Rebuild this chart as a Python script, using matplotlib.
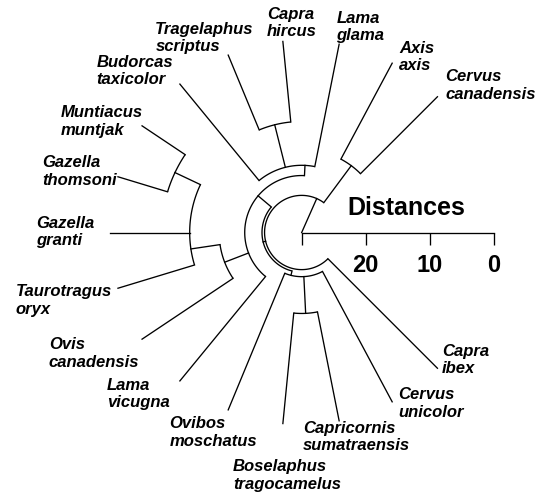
import numpy as np
import matplotlib.pyplot as plt

plt.rcParams['font.family'] = ['Liberation Sans', 'DejaVu Sans']

# leaves, counter-clockwise from the upper right
species = ["Cervus canadensis", "Axis axis", "Lama glama", "Capra hircus",
           "Tragelaphus scriptus", "Budorcas taxicolor", "Muntiacus muntjak",
           "Gazella thomsoni", "Gazella granti", "Taurotragus oryx",
           "Ovis canadensis", "Lama vicugna", "Ovibos moschatus",
           "Boselaphus tragocamelus", "Capricornis sumatraensis",
           "Cervus unicolor", "Capra ibex"]

# joins: children are species names or the index of an earlier join
join_children = [
    ["Cervus canadensis", "Axis axis"],
    ["Capra hircus", "Tragelaphus scriptus"],
    ["Muntiacus muntjak", "Gazella thomsoni"],
    ["Lama glama", 1, "Budorcas taxicolor"],
    ["Gazella granti", "Taurotragus oryx", 2],
    [4, "Ovis canadensis"],
    ["Boselaphus tragocamelus", "Capricornis sumatraensis"],
    ["Ovibos moschatus", 6, "Cervus unicolor"],
    [5, 3, "Lama vicugna"],
    [8, 7],
    [0, 9, "Capra ibex"],
]
join_dist = [17.0, 12.65, 8.1, 19.5, 12.5, 17.1, 17.35, 23.1, 21.1, 23.8, 24.2]

max_dist = 30
dist_ticks = [30, 20, 10, 0]
dist_labels = ["", "20", "10", "0"]

# where the branch tip sits in each label block (fraction from left, from top)
label_anchor = [(-0.09, 0.85), (-0.2, 0.7), (0.06, 1.03), (0.32, 1.07),
                (0.74, 1.03), (1.09, 0.9), (0.99, 0.63), (1.02, 0.66),
                (1.26, 0.51), (1.06, 0.12), (1.03, 0.06), (1.16, 0.1),
                (0.67, -0.2), (0.46, -1.1), (0.34, 0.0), (-0.09, 0.45),
                (-0.1, 0.75)]

# ---- layout
leaf_theta = np.deg2rad(45 + 270 * np.arange(len(species)) / (len(species) - 1))
theta = dict(zip(species, leaf_theta))
first_leaf = dict(zip(species, leaf_theta))
radius = {s: max_dist for s in species}

fig = plt.figure(figsize=(5.45, 4.97), dpi=100)
ax = fig.add_axes([0, 0, 1, 1])
ax.set_xlim(-47.14, 38.02)
ax.set_ylim(-41.33, 36.33)
ax.set_aspect('equal')
ax.axis('off')

lw = 0.95
for k, (kids, d) in enumerate(zip(join_children, join_dist)):
    r = max_dist - d
    angs = [theta[c] for c in kids]
    a = np.linspace(min(angs), max(angs), 120)
    ax.plot(r * np.cos(a), r * np.sin(a), color='black', lw=lw, solid_capstyle='butt')
    for c in kids:
        ax.plot([r * np.cos(theta[c]), radius[c] * np.cos(theta[c])],
                [r * np.sin(theta[c]), radius[c] * np.sin(theta[c])],
                color='black', lw=lw)
    # stem sits between the first child and the first leaf of the second one
    theta[k] = (theta[kids[0]] + first_leaf[kids[1]]) / 2
    first_leaf[k] = min(first_leaf[c] for c in kids)
    radius[k] = r

root = len(join_children) - 1
ax.plot([0, radius[root] * np.cos(theta[root])], [0, radius[root] * np.sin(theta[root])],
        color='black', lw=lw)

# ---- distance scale
sc = ax.inset_axes([0, -0.01, max_dist, 0.01], transform=ax.transData)
sc.set_xlim(max_dist, 0)
sc.set_facecolor('none')
for s in ['top', 'left', 'right']:
    sc.spines[s].set_visible(False)
sc.spines['bottom'].set_linewidth(lw)
sc.set_yticks([])
sc.set_xticks(dist_ticks)
sc.set_xticklabels(dist_labels, fontsize=17, fontweight='bold')
sc.tick_params(axis='x', length=8.4, width=lw, pad=7)
ax.text(16.4, 2.73, "Distances", fontsize=18, fontweight='bold', ha='center', va='baseline')

# ---- leaf labels
fig.canvas.draw()
rend = fig.canvas.get_renderer()
ppu = ax.transData.transform((1, 0))[0] - ax.transData.transform((0, 0))[0]
for name, th, (fx, fy) in zip(species, leaf_theta, label_anchor):
    t = ax.text(0, 0, name.replace(' ', '\n'), ha='left', va='top', fontsize=12,
                fontweight='bold', fontstyle='italic', linespacing=1.2)
    bb = t.get_window_extent(rend)
    w, h = bb.width / ppu, bb.height / ppu
    px, py = max_dist * np.cos(th), max_dist * np.sin(th)
    t.set_position((px - fx * w, py + fy * h))

fig.savefig("out.png", dpi=100)
